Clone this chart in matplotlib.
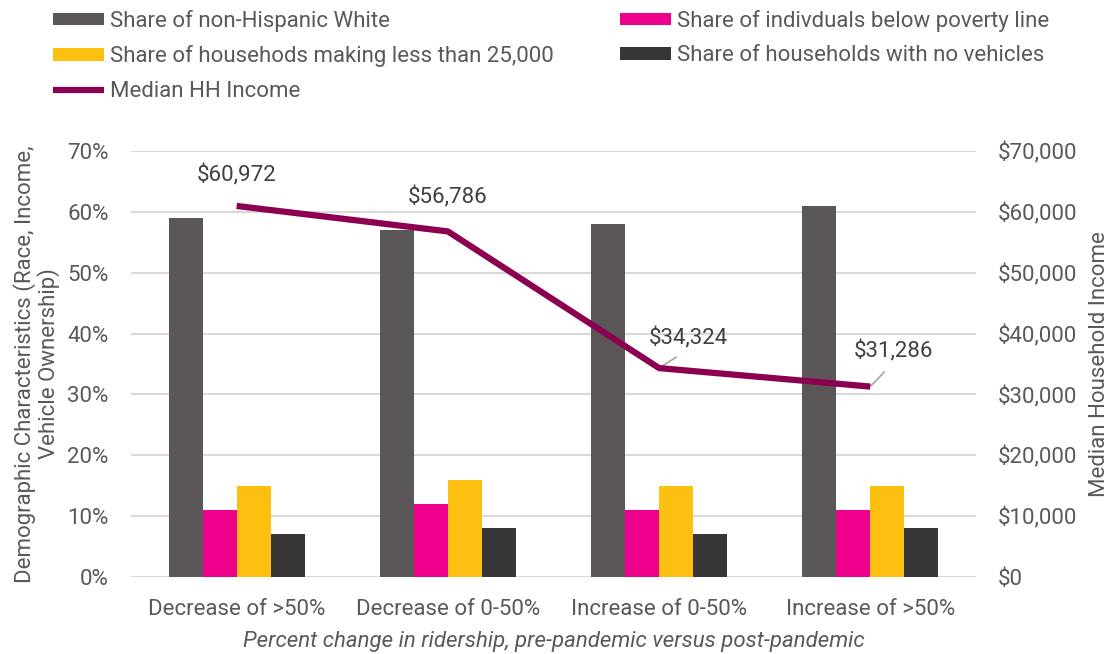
import matplotlib

matplotlib.use("Agg")
import matplotlib.pyplot as plt
import numpy as np
from matplotlib.ticker import FuncFormatter

plt.rcParams["font.family"] = ["Roboto", "DejaVu Sans"]

categories = ["Decrease of >50%", "Decrease of 0-50%", "Increase of 0-50%", "Increase of >50%"]
share_white = [59, 57, 58, 61]
share_poverty = [11, 12, 11, 11]
share_low_income = [15, 16, 15, 15]
share_no_vehicle = [7, 8, 7, 8]
median_income = [60972, 56786, 34324, 31286]

series_labels = [
    "Share of non-Hispanic White",
    "Share of indivduals below poverty line",
    "Share of househods making less than 25,000",
    "Share of households with no vehicles",
]
series_colors = ["#5B5758", "#EC008C", "#FDC010", "#383636"]
line_color = "#8C0052"
text_color = "#595959"
FS = 16

W, H = 1111, 654
fig = plt.figure(figsize=(W / 100, H / 100), dpi=100)
ax = fig.add_axes([131 / W, 1 - 577 / H, 845 / W, 426 / H])
ax2 = ax.twinx()

x = np.arange(len(categories))
w = 0.161
bars = []
for i, (vals, col, lab) in enumerate(zip(
        [share_white, share_poverty, share_low_income, share_no_vehicle],
        series_colors, series_labels)):
    b = ax.bar(x + (i - 1.5) * w, vals, w, color=col, label=lab, zorder=3)
    bars.append(b)

ax.set_ylim(0, 70)
ax.set_yticks(range(0, 71, 10))
ax.yaxis.set_major_formatter(FuncFormatter(lambda v, p: f"{v:.0f}%"))
ax.set_xlim(-0.5, 3.5)
ax.set_xticks(x)
ax.set_xticklabels(categories)
ax.grid(axis="y", color="#D9D9D9", linewidth=1.5, zorder=0)
ax.set_axisbelow(True)

line, = ax2.plot(x, median_income, color=line_color, linewidth=4.5,
                 solid_capstyle="butt", label="Median HH Income", zorder=4)
ax2.set_ylim(0, 70000)
ax2.set_yticks(range(0, 70001, 10000))
ax2.yaxis.set_major_formatter(FuncFormatter(lambda v, p: f"${v:,.0f}"))

for a in (ax, ax2):
    for s in a.spines.values():
        s.set_visible(False)
    a.tick_params(length=0, labelsize=FS, colors=text_color, pad=16)
ax.tick_params(axis="x", pad=16)

# data labels: (x offset in categories, y center in $)
label_pos = [(0.0, 66050), (0.0, 62430), (0.14, 39270), (0.11, 37130)]
for i, v in enumerate(median_income):
    dx, ty = label_pos[i]
    if i >= 2:
        ax2.annotate(f"${v:,}", xy=(x[i], v), xytext=(x[i] + dx, ty),
                     ha="center", va="center", fontsize=FS, color="#404040",
                     arrowprops=dict(arrowstyle="-", color="#A6A6A6", lw=1.2,
                                     relpos=(0.5, 0), shrinkA=7, shrinkB=1))
    else:
        ax2.text(x[i] + dx, ty, f"${v:,}", ha="center", va="center",
                 fontsize=FS, color="#404040")

ax.set_ylabel("Demographic Characteristics (Race, Income,\nVehicle Ownership)",
              fontsize=FS, color=text_color, labelpad=5, linespacing=1.05)
ax2.set_ylabel("Median Household Income", fontsize=FS, color=text_color, labelpad=8)
ax.set_xlabel("Percent change in ridership, pre-pandemic versus post-pandemic",
              fontsize=FS, color=text_color, style="italic", labelpad=8)

leg_kw = dict(frameon=False, loc="upper left", fontsize=FS, labelcolor=text_color,
              handlelength=2.3, handleheight=0.5, handletextpad=0.28,
              labelspacing=0.6, borderpad=0, borderaxespad=0)
leg1 = fig.legend([bars[0], bars[2], line],
                  [series_labels[0], series_labels[2], "Median HH Income"],
                  bbox_to_anchor=(53 / W, 1 - 10 / H), **leg_kw)
leg2 = fig.legend([bars[1], bars[3]], [series_labels[1], series_labels[3]],
                  bbox_to_anchor=(620 / W, 1 - 10 / H), **leg_kw)

fig.savefig("out.png", dpi=100)
